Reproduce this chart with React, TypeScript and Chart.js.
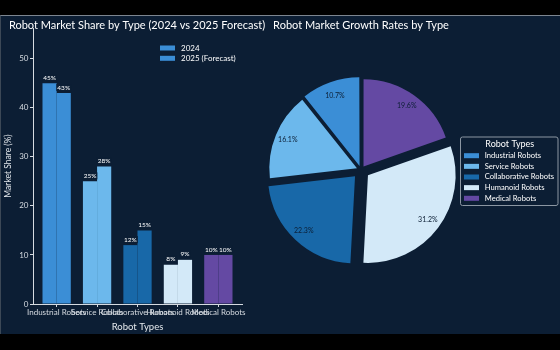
import React, { useEffect, useRef } from 'react';
import { Chart, registerables } from 'chart.js';

Chart.register(...registerables);

// ---- data ----
const categories = ['Industrial Robots', 'Service Robots', 'Collaborative Robots', 'Humanoid Robots', 'Medical Robots'];
const share2024 = [45, 25, 12, 8, 10];
const share2025 = [43, 28, 15, 9, 10];
const growthShares = [10.7, 16.1, 22.3, 31.2, 19.6];
const explode = [0.05, 0.05, 0.1, 0.1, 0.05];
const yTicks = [0, 10, 20, 30, 40, 50];
const seriesLabels = ['2024', '2025 (Forecast)'];
const catColors = ['#3b8ed6', '#6cb8ec', '#1868a8', '#d3e9f8', '#6449a3'];

const FONT = 'Lato';
const NAVY = '#0c1e34';
const TICK = '#d6dbe1';
const PIE_R = 87;

export default function App() {
  const barRef = useRef<HTMLCanvasElement>(null);
  const pieRef = useRef<HTMLCanvasElement>(null);

  useEffect(() => {
    const barValueLabels = {
      id: 'barValueLabels',
      afterDatasetsDraw(chart: any) {
        const ctx = chart.ctx;
        ctx.save();
        ctx.font = `6.5px ${FONT}`;
        ctx.textAlign = 'center';
        ctx.textBaseline = 'middle';
        chart.data.datasets.forEach((ds: any, di: number) => {
          const meta = chart.getDatasetMeta(di);
          meta.data.forEach((el: any, i: number) => {
            const v = ds.data[i].y;
            const txt = `${v}%`;
            const w = ctx.measureText(txt).width;
            const y = el.y - 5.5;
            ctx.fillStyle = NAVY;
            ctx.fillRect(el.x - w / 2 - 1, y - 3.5, w + 2, 7);
            ctx.fillStyle = '#ffffff';
            ctx.fillText(txt, el.x, y);
          });
        });
        ctx.restore();
      },
    };

    const barLegend = {
      id: 'barLegend',
      afterDraw(chart: any) {
        const ctx = chart.ctx;
        ctx.save();
        ctx.font = `8px ${FONT}`;
        ctx.textBaseline = 'middle';
        ctx.textAlign = 'left';
        chart.data.datasets.forEach((ds: any, i: number) => {
          const y = 33 + i * 10.3;
          ctx.fillStyle = ds.backgroundColor[0];
          ctx.fillRect(160, y - 2.5, 15, 5);
          ctx.fillStyle = '#ffffff';
          ctx.fillText(ds.label, 181, y);
        });
        ctx.restore();
      },
    };

    const bar = new Chart(barRef.current as HTMLCanvasElement, {
      type: 'bar',
      data: {
        datasets: [
          {
            label: seriesLabels[0],
            data: share2024.map((v, i) => ({ x: i, y: v })),
            backgroundColor: catColors,
            borderWidth: 0,
            categoryPercentage: 0.7,
            barPercentage: 1.0,
          },
          {
            label: seriesLabels[1],
            data: share2025.map((v, i) => ({ x: i, y: v })),
            backgroundColor: catColors,
            borderWidth: 0,
            categoryPercentage: 0.7,
            barPercentage: 1.0,
          },
        ] as any,
      },
      options: {
        animation: false,
        responsive: false,
        devicePixelRatio: 1,
        layout: { padding: 0 },
        scales: {
          x: {
            type: 'linear',
            min: -0.585,
            max: 4.585,
            offset: false,
            grid: { display: true, drawOnChartArea: false, drawTicks: true, tickLength: 3, tickColor: TICK, offset: false },
            border: { display: true, color: TICK, width: 1 },
            afterBuildTicks: (s: any) => {
              s.ticks = categories.map((_, i) => ({ value: i }));
            },
            afterFit: (s: any) => {
              s.height = 31;
            },
            ticks: {
              autoSkip: false,
              maxRotation: 0,
              minRotation: 0,
              padding: 1,
              color: TICK,
              font: { family: FONT, size: 8 },
              callback: (v: any) => categories[v] ?? '',
            },
            title: {
              display: true,
              text: 'Robot Types',
              color: '#e4e8ec',
              font: { family: FONT, size: 9.5 },
              padding: { top: 0, bottom: 2.3 },
            },
          } as any,
          y: {
            type: 'linear',
            min: 0,
            max: 56.25,
            grid: { display: true, drawOnChartArea: false, drawTicks: true, tickLength: 3, tickColor: TICK },
            border: { display: true, color: TICK, width: 1 },
            afterBuildTicks: (s: any) => {
              s.ticks = yTicks.map((v) => ({ value: v }));
            },
            afterFit: (s: any) => {
              s.width = 33;
            },
            ticks: { padding: 1.5, color: TICK, font: { family: FONT, size: 8 } },
            title: {
              display: true,
              text: 'Market Share (%)',
              color: '#e4e8ec',
              font: { family: FONT, size: 8.5 },
              padding: { top: 2.9, bottom: 0 },
            },
          } as any,
          yRight: {
            type: 'linear',
            position: 'right',
            display: true,
            grid: { display: false, drawTicks: false },
            border: { display: false },
            ticks: { display: false },
            afterFit: (s: any) => {
              s.width = 32;
            },
          } as any,
        },
        plugins: {
          legend: { display: false },
          tooltip: { enabled: false },
          title: {
            display: true,
            text: 'Robot Market Share by Type (2024 vs 2025 Forecast)',
            color: '#ffffff',
            font: { family: FONT, size: 11, weight: 'normal', lineHeight: 1 },
            padding: { top: 4.5, bottom: -2.5 },
          },
        },
      } as any,
      plugins: [barValueLabels, barLegend],
    });

    // pie: matplotlib draws counter-clockwise from 12 o'clock; Chart.js goes clockwise -> reverse
    const rev = <T,>(a: T[]) => a.slice().reverse();
    const pieLabelsRev = rev(categories);
    const pieValsRev = rev(growthShares);
    const pieColorsRev = rev(catColors);
    const pieOffsetsRev = rev(explode).map((e) => e * PIE_R * 4);
    const total = growthShares.reduce((a, b) => a + b, 0);

    const piePct = {
      id: 'piePct',
      afterDatasetsDraw(chart: any) {
        const ctx = chart.ctx;
        const meta = chart.getDatasetMeta(0);
        ctx.save();
        ctx.font = `7px ${FONT}`;
        ctx.textAlign = 'center';
        ctx.textBaseline = 'middle';
        ctx.fillStyle = NAVY;
        meta.data.forEach((el: any, i: number) => {
          const mid = (el.startAngle + el.endAngle) / 2;
          const off = (el.options.offset || 0) / 4;
          const d = off + 0.86 * el.outerRadius;
          const pct = ((pieValsRev[i] / total) * 100).toFixed(1) + '%';
          ctx.fillText(pct, el.x + Math.cos(mid) * d, el.y + Math.sin(mid) * d);
        });
        ctx.restore();
      },
    };

    const pieLegend = {
      id: 'pieLegend',
      afterDraw(chart: any) {
        const ctx = chart.ctx;
        ctx.save();
        const x0 = 210.5, y0 = 122, w = 97.5, h = 68.5;
        ctx.fillStyle = NAVY;
        ctx.strokeStyle = '#8b96a2';
        ctx.lineWidth = 1;
        ctx.beginPath();
        (ctx as any).roundRect(x0, y0, w, h, 2);
        ctx.fill();
        ctx.stroke();
        ctx.fillStyle = '#ffffff';
        ctx.textBaseline = 'middle';
        ctx.textAlign = 'center';
        ctx.font = `9px ${FONT}`;
        ctx.fillText('Robot Types', 259.8, 129);
        ctx.textAlign = 'left';
        ctx.font = `7.6px ${FONT}`;
        categories.forEach((c, i) => {
          const y = 140.7 + i * 10.65;
          ctx.fillStyle = catColors[i];
          ctx.fillRect(214, y - 2.5, 15, 5);
          ctx.fillStyle = '#ffffff';
          ctx.fillText(c, 234.7, y);
        });
        ctx.restore();
      },
    };

    const pie = new Chart(pieRef.current as HTMLCanvasElement, {
      type: 'pie',
      data: {
        labels: pieLabelsRev,
        datasets: [
          {
            data: pieValsRev,
            backgroundColor: pieColorsRev,
            borderWidth: 0,
            offset: pieOffsetsRev,
            radius: PIE_R,
          } as any,
        ],
      },
      options: {
        animation: false,
        responsive: false,
        devicePixelRatio: 1,
        radius: PIE_R,
        layout: { padding: { left: 0, right: 88, top: 0, bottom: 25.5 } },
        plugins: {
          legend: { display: false },
          tooltip: { enabled: false },
          title: {
            display: true,
            text: 'Robot Market Growth Rates by Type',
            color: '#ffffff',
            font: { family: FONT, size: 11, weight: 'normal', lineHeight: 1 },
            padding: { top: 4.5, bottom: 0 },
          },
        },
      } as any,
      plugins: [piePct, pieLegend],
    });

    return () => {
      bar.destroy();
      pie.destroy();
    };
  }, []);

  return (
    <div style={{ position: 'fixed', left: 0, top: 0, width: 560, height: 350, background: '#000', overflow: 'hidden' }}>
      <div
        style={{
          position: 'absolute',
          left: 0,
          top: 15,
          width: 560,
          height: 319,
          background: NAVY,
          borderTop: '1px solid #7d8690',
          borderLeft: '1px solid #3c4856',
          boxSizing: 'border-box',
        }}
      />
      <canvas ref={barRef} width={274} height={320} style={{ position: 'absolute', left: 0, top: 15 }} />
      <canvas ref={pieRef} width={310} height={320} style={{ position: 'absolute', left: 250, top: 15 }} />
    </div>
  );
}
